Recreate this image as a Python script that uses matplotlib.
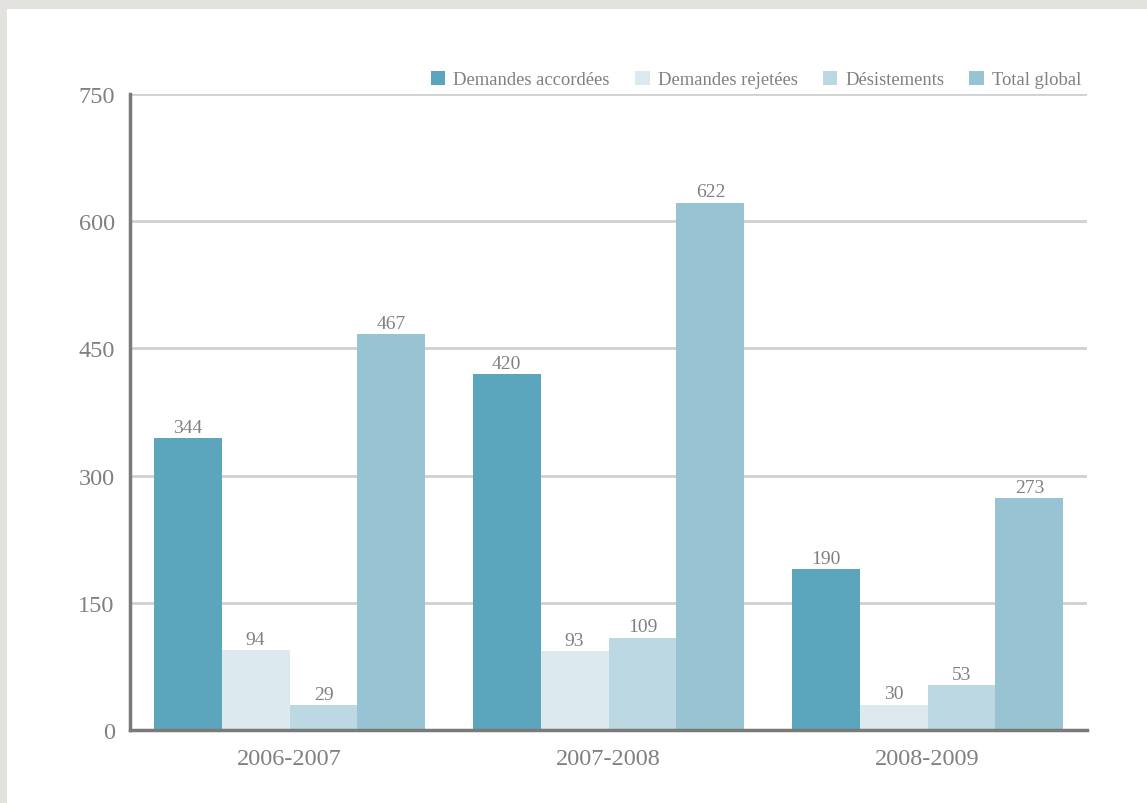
import numpy as np
import matplotlib.pyplot as plt
from matplotlib.patches import Rectangle

# données
periodes = ["2006-2007", "2007-2008", "2008-2009"]
series = ["Demandes accordées", "Demandes rejetées", "Désistements", "Total global"]
accordees = [344, 420, 190]
rejetees = [94, 93, 30]
desistements = [29, 109, 53]
total = [467, 622, 273]
valeurs = [accordees, rejetees, desistements, total]
couleurs = ["#5ba6bd", "#dce9ee", "#bcd9e3", "#98c3d3"]

gris = "#808080"
plt.rcParams["font.family"] = ["Liberation Serif", "DejaVu Serif"]

W, H = 1147, 804
fig = plt.figure(figsize=(W / 100, H / 100), dpi=100)
fig.patch.set_facecolor("#e3e2de")
fig.add_artist(Rectangle((7 / W, 0), 1, (H - 10) / H, transform=fig.transFigure,
                         facecolor="white", edgecolor="none", zorder=0))

ax = fig.add_axes([130 / W, (H - 731) / H, (1087 - 130) / W, (731 - 95) / H])
ax.set_facecolor("none")

x = np.arange(len(periodes))
w = 0.213
for i, (nom, vals, c) in enumerate(zip(series, valeurs, couleurs)):
    pos = x + (i - 1.5) * w
    barres = ax.bar(pos, vals, width=w, color=c, label=nom, zorder=3)
    for b, v in zip(barres, vals):
        ax.annotate(str(v), (b.get_x() + b.get_width() / 2, v), xytext=(0, 1.5),
                    textcoords="offset points", ha="center", va="bottom",
                    fontsize=14, color=gris)

ax.set_xlim(-0.5, 2.5)
ax.set_ylim(0, 750)
ax.set_yticks(np.arange(0, 751, 150))
ax.set_xticks(x)
ax.set_xticklabels(periodes)
ax.tick_params(axis="both", length=0, labelsize=17.5, labelcolor=gris)
ax.tick_params(axis="y", pad=11)
ax.tick_params(axis="x", pad=13)
ax.yaxis.grid(True, color="#d0d0d0", linewidth=2, zorder=1)
ax.set_axisbelow(True)

for s in ["top", "right"]:
    ax.spines[s].set_visible(False)
for s in ["left", "bottom"]:
    ax.spines[s].set_color("#7a7a78")
    ax.spines[s].set_linewidth(2.5)
    ax.spines[s].set_zorder(4)

leg = ax.legend(loc="lower right", bbox_to_anchor=(1.0, 1.0), ncol=4, frameon=False,
                fontsize=13.4, handlelength=0.8, handleheight=0.8, columnspacing=1.35,
                handletextpad=0.42, borderaxespad=0.0, borderpad=0.3)
for t in leg.get_texts():
    t.set_color(gris)

fig.savefig("out.png", dpi=100, facecolor=fig.get_facecolor())
